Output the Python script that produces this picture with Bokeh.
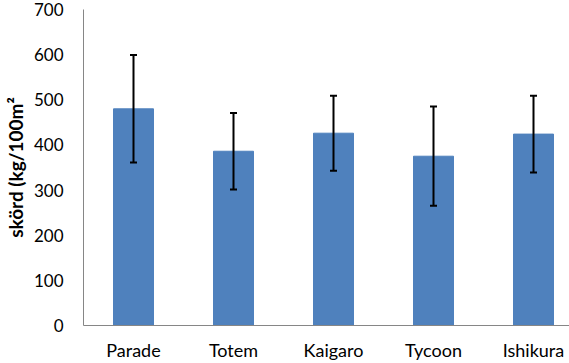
from bokeh.plotting import figure
from bokeh.models import Range1d, FixedTicker, ColumnDataSource, Whisker, TeeHead
from bokeh.embed import file_html
from bokeh.resources import INLINE

categories = ["Parade", "Totem", "Kaigaro", "Tycoon", "Ishikura"]
yield_values = [480, 386, 426, 375, 424]
error_values = [119, 85, 83, 110, 85]
y_ticks = [0, 100, 200, 300, 400, 500, 600, 700]

xs = list(range(len(categories)))
src = ColumnDataSource(dict(
    x=xs,
    top=yield_values,
    upper=[v + e for v, e in zip(yield_values, error_values)],
    lower=[v - e for v, e in zip(yield_values, error_values)],
))

font = "Lato"
W, H = 569, 363
p = figure(width=W, height=H, output_backend="svg", toolbar_location=None,
           x_range=Range1d(-0.5, 4.36), y_range=Range1d(0, 700),
           min_border_left=79, min_border_right=0, min_border_top=9, min_border_bottom=0)
p.outline_line_color = None
p.background_fill_color = "white"
p.border_fill_color = "white"
p.xgrid.visible = False
p.ygrid.visible = False

p.vbar(x="x", top="top", width=0.4, source=src, color="#4F81BD")
p.add_layout(Whisker(source=src, base="x", upper="upper", lower="lower",
                     level="annotation",
                     line_color="black", line_width=2,
                     upper_head=TeeHead(size=7, line_color="black", line_width=2),
                     lower_head=TeeHead(size=7, line_color="black", line_width=2)))

p.yaxis.ticker = FixedTicker(ticks=y_ticks)
p.xaxis.ticker = FixedTicker(ticks=xs)
p.xaxis.major_label_overrides = {i: c for i, c in enumerate(categories)}
for ax in (p.xaxis, p.yaxis):
    ax.axis_line_color = "#868686"
    ax.axis_line_width = 1
    ax.major_tick_line_color = None
    ax.minor_tick_line_color = None
    ax.major_tick_out = 0
    ax.major_tick_in = 0
    ax.major_label_text_font = font
    ax.major_label_text_color = "black"
p.yaxis.major_label_text_font_size = "17px"
p.xaxis.major_label_text_font_size = "18px"
p.yaxis.major_label_standoff = 20
p.xaxis.major_label_standoff = 13
p.xaxis.axis_label_standoff = 0
p.yaxis.axis_label = "skörd (kg/100m²"
p.yaxis.axis_label_text_font = font
p.yaxis.axis_label_text_font_size = "19px"
p.yaxis.axis_label_text_font_style = "bold"
p.yaxis.axis_label_text_color = "black"
p.yaxis.axis_label_standoff = 4

open("out.html", "w").write(file_html(p, INLINE))
